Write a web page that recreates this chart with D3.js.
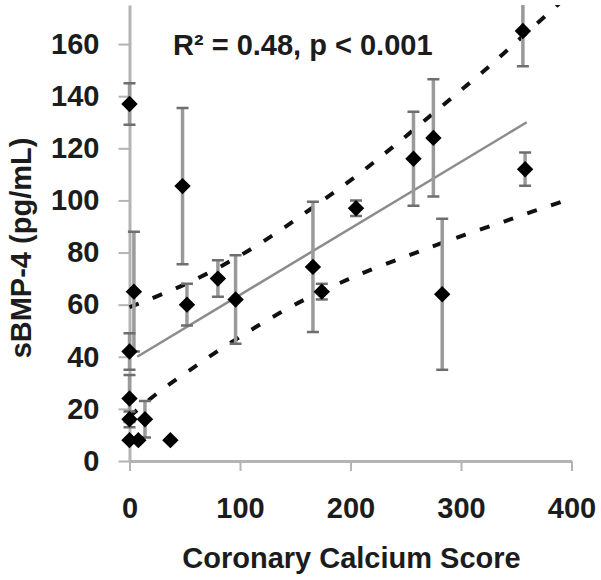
<!DOCTYPE html>
<html>
<head>
<meta charset="utf-8">
<script src="https://cdn.jsdelivr.net/npm/d3@7"></script>
<style>
  body { margin: 0; background: #fff; }
  text { font-family: "Liberation Sans", Arial, sans-serif; font-weight: bold; }
</style>
</head>
<body>
<div id="chart"></div>
<script>
// values
const xTicks = [0, 100, 200, 300, 400]
const yTicks = [0, 20, 40, 60, 80, 100, 120, 140, 160]

const calcium = [0, 48, 4, 52, 80, 96, 0, 0, 0, 14, 0, 8, 37, 166, 174, 205, 257, 275, 283, 356, 358]
const bmp4    = [137, 105.5, 65, 60, 70, 62, 42, 24, 16, 16, 8, 8, 8, 74.5, 65, 97, 116, 124, 64, 165, 112]
const bmpErr  = [8, 30, 23, 8, 7, 17, 7, 9, 3, 7, 0, 0, 0, 25, 3, 3, 18, 22.5, 29, 13.5, 6.4]

const fitLine = [[7, 40], [359.5, 130]]

const upperBand = [[0, 59], [28, 63.7], [49, 67.5], [70, 71.8], [92, 76.8], [112, 81.8],
  [132, 87.2], [151, 92.8], [171, 98.8], [190, 104.6], [209, 110.5], [227, 116.6], [245, 122.8],
  [263, 129.2], [284, 136.6], [299, 142], [319, 149], [335, 155], [371, 168.8], [390, 176]]

const lowerBand = [[0, 17], [21.5, 25], [41, 31], [61, 36.7], [80, 42.4], [101.5, 48],
  [121, 53.2], [142, 58.3], [163, 63], [186, 67.5], [205.6, 71.2], [228, 75], [251, 78.6],
  [272, 82], [294.6, 85.5], [317, 88.8], [340, 92], [361, 95.2], [383.5, 98.4], [401.6, 101]]

const rSquared = "R\u00b2 = 0.48, p < 0.001"

const margin = {top: 5, right: 29.5, bottom: 119, left: 129.5},
      width  = 601 - margin.left - margin.right,
      height = 580 - margin.top - margin.bottom

const x = d3.scaleLinear().domain([0, 400]).range([0, width])
const y = d3.scaleLinear().domain([0, 175]).range([height, 0])

const svg = d3.select("#chart")
  .append("svg")
    .attr("width", 601)
    .attr("height", 580)
  .append("g")
    .attr("transform", "translate(" + margin.left + "," + margin.top + ")")

svg.append("defs")
  .append("clipPath")
    .attr("id", "clip-plot")
  .append("rect")
    .attr("x", -20)
    .attr("y", 0)
    .attr("width", width + 40)
    .attr("height", height + 20)

//x axis
const xAxis = svg.append("g")
  .attr("transform", "translate(0," + height + ")")
  .call(d3.axisBottom(x)
    .tickValues(xTicks)
    .tickSize(10)
    .tickSizeOuter(0)
    .tickPadding(26))
//y axis
const yAxis = svg.append("g")
  .call(d3.axisLeft(y)
    .tickValues(yTicks)
    .tickSize(11)
    .tickSizeOuter(0)
    .tickPadding(19))

for (let ax of [xAxis, yAxis]) {
  ax.select(".domain").attr("stroke", "#b4b4b4").attr("stroke-width", 3)
  ax.selectAll(".tick line").attr("stroke", "#b4b4b4").attr("stroke-width", 2)
  ax.selectAll(".tick text")
    .attr("fill", "#1c1c1c")
    .style("font-size", "29px")
    .style("font-family", "'Liberation Sans', Arial, sans-serif")
    .style("font-weight", "bold")
}

svg.append("text")
  .attr("x", 351.5 - margin.left)
  .attr("y", 568 - margin.top)
  .attr("text-anchor", "middle")
  .attr("fill", "#1c1c1c")
  .style("font-size", "29px")
  .text("Coronary Calcium Score")

svg.append("text")
  .attr("transform", "translate(" + (31 - margin.left) + "," + (248 - margin.top) + ") rotate(-90)")
  .attr("text-anchor", "middle")
  .attr("fill", "#1c1c1c")
  .style("font-size", "29px")
  .text("sBMP-4 (pg/mL)")

svg.append("text")
  .attr("x", 173 - margin.left)
  .attr("y", 55 - margin.top)
  .attr("fill", "#1c1c1c")
  .style("font-size", "29px")
  .text(rSquared)

const plot = svg.append("g").attr("clip-path", "url(#clip-plot)")

const bandLine = d3.line()
  .x(d => x(d[0]))
  .y(d => y(d[1]))
  .curve(d3.curveBasis)

// confidence band
for (let band of [upperBand, lowerBand]) {
  plot.append("path")
    .datum(band)
    .attr("d", bandLine)
    .attr("fill", "none")
    .attr("stroke", "#111")
    .attr("stroke-width", 4)
    .attr("stroke-dasharray", "10,15")
}

// regression line
plot.append("path")
  .datum(fitLine)
  .attr("d", d3.line().x(d => x(d[0])).y(d => y(d[1])))
  .attr("fill", "none")
  .attr("stroke", "#8c8c8c")
  .attr("stroke-width", 2.5)

const points = calcium.map((c, i) => ({c: c, v: bmp4[i], e: bmpErr[i]}))

// error bars
plot.selectAll(null)
  .data(points.filter(d => d.e > 0))
  .enter()
  .append("line")
  .attr("x1", d => x(d.c))
  .attr("x2", d => x(d.c))
  .attr("y1", d => y(d.v + d.e))
  .attr("y2", d => y(d.v - d.e))
  .attr("stroke", "#9a9a9a")
  .attr("stroke-width", 3.5)

for (let side of [1, -1]) {
  plot.selectAll(null)
    .data(points.filter(d => d.e > 0))
    .enter()
    .append("line")
    .attr("x1", d => x(d.c) - 6)
    .attr("x2", d => x(d.c) + 6)
    .attr("y1", d => y(d.v + side * d.e))
    .attr("y2", d => y(d.v + side * d.e))
    .attr("stroke", "#6e6e6e")
    .attr("stroke-width", 2.5)
}

// markers
plot.selectAll(null)
  .data(points)
  .enter()
  .append("path")
  .attr("d", d3.symbol(d3.symbolSquare, 135))
  .attr("transform", d => "translate(" + x(d.c) + "," + y(d.v) + ") rotate(45)")
  .attr("fill", "#000")
</script>
</body>
</html>
